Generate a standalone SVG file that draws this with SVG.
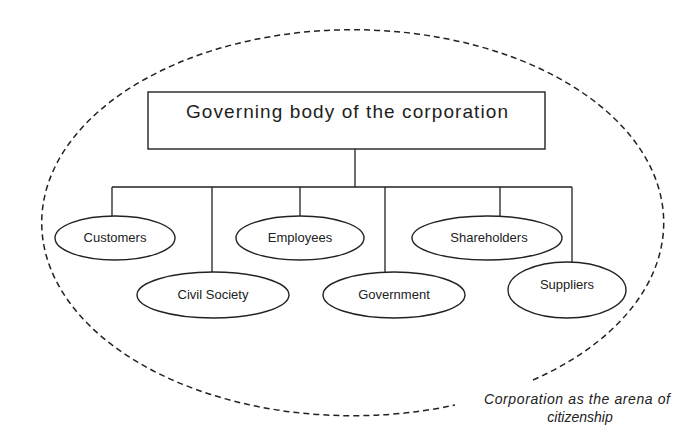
<svg xmlns="http://www.w3.org/2000/svg" width="692" height="448" viewBox="0 0 692 448">
<style>
.n{fill:#fff;stroke:#222;stroke-width:1.4}
.c{fill:none;stroke:#222;stroke-width:1.3}
.t{font-family:"Liberation Sans",Arial,sans-serif;fill:#222;text-anchor:middle}
.s{font-size:13px}
</style>
<rect width="692" height="448" fill="#fff"/>
<g id="arena">
<path d="M533,380 A311,193 0 1 0 455,405" fill="none" stroke="#222" stroke-width="1.5" stroke-dasharray="6,4"/>
<text class="t" x="577" y="404" font-size="14" font-style="italic" textLength="186">Corporation as the arena of</text>
<text class="t" x="580" y="422" font-size="14" font-style="italic">citizenship</text>
</g>
<g id="connectors">
<path class="c" d="M355,149V187M112,187H572M112,187V216M212,187V273M300,187V216M385,187V273M500,187V216M572,187V264"/>
</g>
<g id="governing">
<rect class="n" x="148" y="92" width="397" height="57"/>
<text class="t" x="347" y="118" font-size="19" textLength="322">Governing body of the corporation</text>
</g>
<g id="customers">
<ellipse class="n" cx="115" cy="238" rx="60" ry="22"/>
<text class="t s" x="115" y="242">Customers</text>
</g>
<g id="employees">
<ellipse class="n" cx="300" cy="238" rx="64" ry="22"/>
<text class="t s" x="300" y="242">Employees</text>
</g>
<g id="shareholders">
<ellipse class="n" cx="487" cy="238" rx="75" ry="22"/>
<text class="t s" x="489" y="242">Shareholders</text>
</g>
<g id="civil">
<ellipse class="n" cx="213" cy="295" rx="76" ry="23"/>
<text class="t s" x="213" y="299">Civil Society</text>
</g>
<g id="government">
<ellipse class="n" cx="394" cy="295" rx="71" ry="23"/>
<text class="t s" x="394" y="299">Government</text>
</g>
<g id="suppliers">
<ellipse class="n" cx="567" cy="290" rx="59" ry="28"/>
<text class="t s" x="567" y="289">Suppliers</text>
</g>
</svg>
